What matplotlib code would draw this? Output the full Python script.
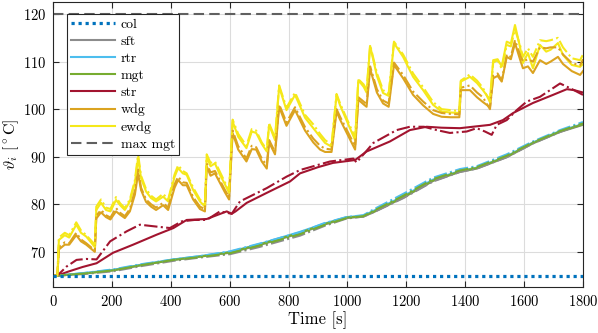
import numpy as np
import matplotlib
matplotlib.use("Agg")
import matplotlib.pyplot as plt

plt.rcParams['font.family'] = 'serif'
plt.rcParams['font.serif'] = ['cmr10']
plt.rcParams['mathtext.fontset'] = 'cm'
plt.rcParams['axes.unicode_minus'] = False
plt.rcParams['axes.formatter.use_mathtext'] = True

# ---- data ----
t_col = [0, 1800]
col = [65, 65]
t_max = [0, 1800]
max_mgt = [120, 120]

# winding / end winding (solid = measured, dash-dot = model)
t_w = [0, 15, 20, 40, 55, 79, 95, 113, 142, 147, 163, 180, 195, 214, 228, 244, 261, 278, 289, 299,
       316, 333, 350, 374, 391, 413, 425, 441, 454, 476, 499, 516, 522, 535, 550, 567, 584, 598, 610, 629,
       657, 675, 690, 709, 726, 734, 754, 768, 793, 822, 856, 884, 907, 924, 946, 963, 975, 1026, 1037, 1055,
       1065, 1077, 1100, 1121, 1140, 1158, 1189, 1223, 1257, 1291, 1320, 1350, 1380, 1385, 1416, 1440, 1460, 1484, 1495, 1510,
       1524, 1541, 1555, 1569, 1586, 1596, 1613, 1630, 1654, 1675, 1690, 1715, 1732, 1762, 1790, 1800]
ewdg = [65, 65, 72.5, 73.5, 73, 75.7, 74, 73.2, 71, 78.8, 80.3, 78.8, 78.5, 80.9, 79.8, 78.8, 80.6, 84.5, 89.7, 85.5,
        82.7, 81.3, 80.6, 81.6, 80.6, 85.8, 87.6, 86.5, 86.2, 83, 80.6, 79.5, 90, 88, 88.6, 86.2, 84.2, 82.4, 97.4, 94.2,
        91.8, 95.3, 95, 92.7, 91.1, 96.7, 93.5, 104.7, 99.8, 103, 98.2, 96, 94.2, 92.9, 92.1, 103, 100.8, 93.5, 106.1, 104.7,
        103.5, 113.3, 107, 103.4, 102.8, 113.9, 111, 106.8, 104, 100.9, 99.5, 99.3, 99.2, 105.8, 106.8, 105.5, 104, 102, 110.3, 110.5,
        109, 114.2, 113.8, 117.7, 113.1, 109.7, 111.8, 108.6, 113.5, 112.1, 112.5, 113.9, 111.4, 109.3, 108.9, 109.5]
ewdg_sim = [65, 65, 73, 74, 73.5, 76.2, 74.5, 73.5, 71.5, 79.5, 81, 79.3, 79, 81.5, 80.2, 79.2, 81, 85, 90.5, 86,
            83.2, 81.8, 81, 82.2, 81, 86.3, 88.2, 87, 86.5, 83.5, 81, 80, 90.5, 88.7, 89, 86.8, 84.6, 82.8, 97.8, 94.8,
            92.3, 95.8, 95.5, 93, 91.5, 97, 94, 105, 100.3, 103.5, 98.8, 96.8, 94.8, 93.5, 92.5, 103.2, 101.2, 94, 106.3, 105.2,
            104, 113.5, 107.6, 104, 103.3, 114.2, 111.5, 107.5, 104.6, 101.5, 100, 99.8, 99.6, 106, 107.3, 106, 104.5, 101.5, 109.8, 110.3,
            108.5, 113.5, 113.2, 116.8, 113.5, 111, 112.8, 111, 114.5, 114.3, 114.5, 115, 113, 110.7, 110.3, 111.5]
wdg = [65, 65, 70.5, 71.5, 71.5, 73.5, 72.2, 71.5, 70, 77, 78.3, 77.3, 76.8, 78.5, 77.8, 77.1, 78.5, 82, 86.5, 83,
       80.5, 79.5, 78.8, 79.8, 78.8, 83.5, 85.1, 84, 84, 81, 79, 78.5, 88, 86, 86.5, 84.5, 82.5, 81, 95, 91.5,
       89, 91.6, 91.5, 89, 87.5, 93, 90.5, 100.5, 96.5, 99.8, 95.5, 93, 91.5, 91, 91, 99.5, 97.8, 91.5, 102, 101,
       100.5, 108.5, 103.5, 101.2, 100.5, 109.3, 106.5, 103, 100.8, 99, 98.4, 98.3, 98.3, 104, 104, 102.5, 101.5, 100.4, 106.5, 107,
       105.8, 111, 110.5, 113.9, 110.5, 108.6, 109, 107.6, 110.3, 109.5, 110, 111, 109.5, 108, 107.2, 108]
wdg_sim = [65, 65, 71, 72, 71.8, 74, 72.6, 71.8, 70.3, 77.6, 78.8, 77.7, 77.2, 79.2, 78.2, 77.5, 79, 82.8, 87.3, 83.5,
           81, 80, 79.3, 80.3, 79.3, 84.2, 85.8, 84.6, 84.5, 81.5, 79.5, 79, 88.6, 86.7, 87, 85, 83, 81.5, 95.5, 92.2,
           89.6, 92.3, 92, 89.6, 88.2, 93.5, 91, 101, 97.2, 100.4, 96.2, 93.8, 92.3, 91.7, 91.5, 100, 98.4, 92.2, 102.5, 101.6,
           101, 109, 104.2, 101.8, 101.2, 109.8, 107.2, 103.7, 101.6, 99.8, 99.2, 99, 98.9, 104.5, 105, 103.5, 102.5, 100, 107, 107.5,
           106, 111.5, 111, 114.5, 111.5, 110, 110.5, 110, 113, 112.8, 113, 113, 111.5, 109.7, 109.2, 110.5]

# stator
t_str = [0, 15, 50, 100, 148, 204, 272, 352, 409, 454, 522, 590, 607, 620, 658, 726, 805, 839, 900, 951,
         1026, 1065, 1144, 1212, 1269, 1320, 1382, 1484, 1528, 1563, 1630, 1698, 1745, 1770, 1800]
stator = [65, 65, 65.8, 66.8, 67.6, 69.8, 71.5, 73.6, 75, 76.7, 76.9, 78.5, 78, 78.5, 80.3, 82.4, 84.8, 86.5, 87.8, 88.7,
          89.3, 91.1, 93.2, 95.6, 96.3, 96.1, 96, 96.7, 97.7, 99.2, 101.3, 103, 104.2, 104, 103.5]
t_str_sim = [0, 15, 46, 80, 113, 148, 194, 250, 295, 352, 397, 437, 480, 522, 567, 607, 635, 726, 793, 839,
             941, 1020, 1031, 1088, 1167, 1212, 1260, 1303, 1348, 1405, 1439, 1467, 1490, 1507, 1541, 1575, 1609, 1654, 1722, 1760, 1800]
stator_sim = [65, 65, 66.9, 68.3, 68.5, 68.4, 72.2, 74.3, 75.7, 75.3, 75, 76.4, 76.7, 76.7, 78.5, 78, 80.6, 83.4, 85.8, 87.2,
              89, 89.6, 88.8, 92.9, 95.6, 96.3, 96.3, 95.6, 95, 95.3, 96, 95.3, 94.6, 96.7, 97.7, 99.8, 101.6, 102.6, 105.4, 104.3, 103]

# shaft / rotor / magnets
t_r = [0, 15, 100, 204, 300, 409, 500, 601, 700, 839, 920, 997, 1054, 1088, 1190, 1291, 1382, 1439, 1541, 1630, 1722, 1800]
mgt = [65, 65, 65.4, 66.1, 67.2, 68.3, 69, 69.9, 71.5, 74, 75.8, 77.2, 77.5, 78.4, 81.5, 85, 86.9, 87.6, 90, 92.9, 95.3, 96.8]
mgt_sim = [65, 65, 65.4, 66.1, 67.2, 68.3, 68.9, 69.7, 71.3, 73.7, 75.6, 77.1, 77.5, 78.6, 81.8, 85.3, 87.1, 87.8, 90.2, 93, 95.4, 97]
rtr = [65, 65, 65.5, 66.2, 67.3, 68.4, 69.1, 70, 71.6, 74.2, 75.9, 77.3, 77.6, 78.6, 81.7, 85.2, 87, 87.7, 90.1, 93, 95.4, 96.9]
rtr_sim = [65, 65, 65.5, 66.3, 67.4, 68.4, 69.1, 70.1, 71.7, 74.1, 76, 77.3, 77.7, 78.9, 82.2, 85.6, 87.4, 88, 90.5, 93.2, 95.6, 97.3]
sft = [65, 65, 65.4, 66.1, 67.2, 68.3, 69, 69.8, 71.4, 73.9, 75.7, 77.1, 77.4, 78.3, 81.4, 84.9, 86.8, 87.5, 89.9, 92.8, 95.2, 96.7]
sft_sim = [65, 65, 65.3, 65.9, 67, 68.1, 68.8, 69.5, 71, 73.4, 75.4, 77, 77.4, 78.3, 81.3, 84.8, 86.8, 87.5, 89.9, 92.8, 95.2, 97]

c_col = '#0072BD'
c_sft = '#8C8C8C'
c_rtr = '#4DBEEE'
c_mgt = '#77AC30'
c_str = '#A2142F'
c_wdg = '#DBA320'
c_ewdg = '#F5E81A'
c_max = '#606060'

fig = plt.figure(figsize=(5.98, 3.33), dpi=100)
ax = fig.add_axes([53/598, 1 - 287/333, 530/598, 285.3/333])

lw = 1.5
ax.plot(t_col, col, color=c_col, lw=2.3, dashes=(1, 1.2), label='col', zorder=5)
ax.plot(t_r, sft, color=c_sft, lw=lw, label='sft')
ax.plot(t_r, rtr, color=c_rtr, lw=lw, label='rtr')
ax.plot(t_r, mgt, color=c_mgt, lw=lw, label='mgt')
ax.plot(t_str, stator, color=c_str, lw=lw, label='str')
ax.plot(t_w, wdg, color=c_wdg, lw=lw, label='wdg')
ax.plot(t_w, ewdg, color=c_ewdg, lw=lw, label='ewdg')
ax.plot(t_max, max_mgt, color=c_max, lw=1.5, dashes=(5, 2.5), label='max mgt')

ax.plot(t_r, sft_sim, color=c_sft, lw=lw, ls='-.')
ax.plot(t_r, rtr_sim, color=c_rtr, lw=lw, ls='-.')
ax.plot(t_r, mgt_sim, color=c_mgt, lw=lw, ls='-.')
ax.plot(t_str_sim, stator_sim, color=c_str, lw=lw, ls='-.')
ax.plot(t_w, wdg_sim, color=c_wdg, lw=lw, ls='-.')
ax.plot(t_w, ewdg_sim, color=c_ewdg, lw=lw, ls='-.')

ax.set_xlim(0, 1800)
ax.set_ylim(62.6, 122.6)
ax.set_xticks(np.arange(0, 1801, 200))
ax.set_yticks(np.arange(70, 121, 10))
ax.grid(True, color='#dcdcdc', lw=0.8)
ax.set_axisbelow(True)
ax.tick_params(direction='in', top=True, right=True, labelsize=10.5, length=4, color='#262626', pad=5)
for s in ax.spines.values():
    s.set_color('#262626')
    s.set_linewidth(0.8)

ax.set_xlabel('Time [s]', fontsize=12, labelpad=2)
ax.set_ylabel(r'$\vartheta_i$ [$^\circ$C]', fontsize=11.5, labelpad=1)

leg = ax.legend(loc='upper left', bbox_to_anchor=(0.026, 0.958), borderaxespad=0,
                fontsize=10, handlelength=3.2, labelspacing=0.32, handletextpad=0.4,
                fancybox=False, framealpha=1, edgecolor='#262626', borderpad=0.3)
leg.get_frame().set_linewidth(0.8)

fig.savefig('out.png', dpi=100)
